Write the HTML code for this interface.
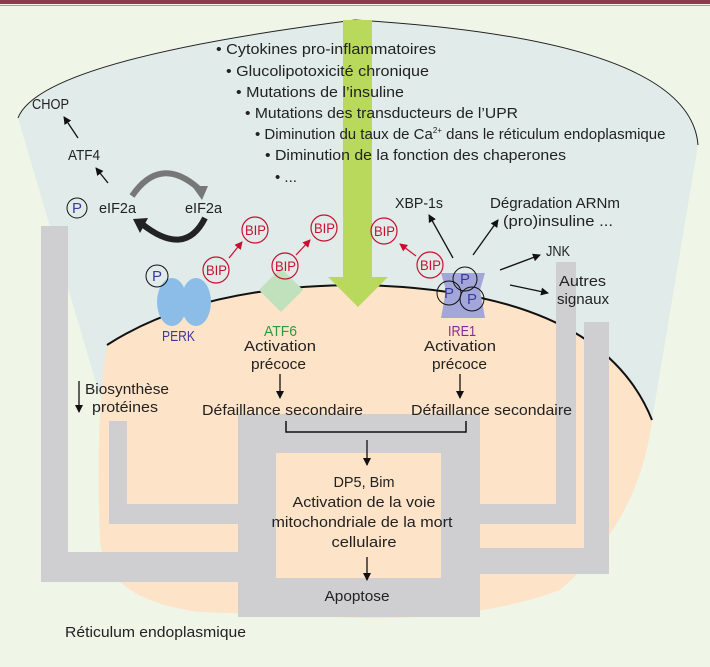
<!DOCTYPE html>
<html><head><meta charset="utf-8"><style>
html,body{margin:0;padding:0;background:#eff6e8;}
svg{display:block;}
text{font-family:"Liberation Sans",sans-serif;font-size:15px;fill:#222;}
</style></head><body>
<svg width="710" height="667" viewBox="0 0 710 667" xmlns="http://www.w3.org/2000/svg">
<defs>
<marker id="ab" markerWidth="8" markerHeight="8" refX="7" refY="4" orient="auto" markerUnits="userSpaceOnUse"><path d="M0,0 L8,4 L0,8 z" fill="#111"/></marker>
<marker id="ar" markerWidth="8" markerHeight="8" refX="7" refY="4" orient="auto" markerUnits="userSpaceOnUse"><path d="M0,0 L8,4 L0,8 z" fill="#c8102e"/></marker>
</defs>
<rect width="710" height="667" fill="#eff6e8"/>
<rect x="0" y="0" width="710" height="4" fill="#8e3a4c"/>
<rect x="0" y="5" width="710" height="1" fill="#c98a96"/>
<!-- cell -->
<path d="M18,118 Q40,60 355,20 Q690,40 698,145 L652,420 L107,420 Z" fill="#e0ebea" stroke="none"/>
<path d="M18,118 Q40,60 355,20 Q690,40 698,145" fill="none" stroke="#222" stroke-width="1"/>
<!-- ER orange -->
<path d="M107,345 Q200,285 360,285 Q600,290 652,420 Q640,520 560,590 Q480,620 360,618 L200,612 Q105,600 100,540 Q95,420 107,345 Z" fill="#fde3c8"/>
<path d="M107,345 Q200,285 360,285 Q600,290 652,420" fill="none" stroke="#111" stroke-width="2"/>
<!-- gray pipes -->
<g fill="#cfcfd2">
<rect x="41" y="226" width="27" height="356"/>
<rect x="41" y="552" width="200" height="30"/>
<rect x="109" y="421" width="18" height="103"/>
<rect x="109" y="504" width="130" height="20"/>
<rect x="556" y="262" width="20" height="262"/>
<rect x="478" y="504" width="98" height="20"/>
<rect x="584" y="322" width="25" height="252"/>
<rect x="478" y="548" width="131" height="26"/>
<path d="M238,414 H480 V617 H238 Z M276,453 V578 H441 V453 Z" fill-rule="evenodd"/>
</g>
<!-- green arrow -->
<rect x="343" y="20" width="29" height="258" fill="#b9d95c"/>
<path d="M328,277 L388,277 L358,307 Z" fill="#b9d95c"/>
<g lengthAdjust="spacingAndGlyphs">
<!-- bullets -->
<text x="216" y="54" textLength="220" lengthAdjust="spacingAndGlyphs">• Cytokines pro-inflammatoires</text>
<text x="226" y="76" textLength="203" lengthAdjust="spacingAndGlyphs">• Glucolipotoxicité chronique</text>
<text x="236" y="97" textLength="168" lengthAdjust="spacingAndGlyphs">• Mutations de l’insuline</text>
<text x="245" y="118" textLength="273" lengthAdjust="spacingAndGlyphs">• Mutations des transducteurs de l’UPR</text>
<text x="255" y="139">• Diminution du taux de Ca<tspan font-size="8" dy="-6">2+</tspan><tspan dy="6" font-size="15"> dans le réticulum endoplasmique</tspan></text>
<text x="265" y="160" textLength="301" lengthAdjust="spacingAndGlyphs">• Diminution de la fonction des chaperones</text>
<text x="275" y="182">• ...</text>
<!-- left PERK pathway -->
<text x="32" y="109" textLength="37" lengthAdjust="spacingAndGlyphs">CHOP</text>
<line x1="78" y1="138" x2="64" y2="117" stroke="#111" stroke-width="1.3" marker-end="url(#ab)"/>
<text x="68" y="160" textLength="32" lengthAdjust="spacingAndGlyphs">ATF4</text>
<line x1="108" y1="183" x2="96" y2="168" stroke="#111" stroke-width="1.3" marker-end="url(#ab)"/>
<circle cx="77" cy="208" r="10" fill="none" stroke="#111"/>
<text x="72" y="213" style="fill:#3a3aa0">P</text>
<text x="99" y="213" textLength="37" lengthAdjust="spacingAndGlyphs">eIF2a</text>
<text x="185" y="213" textLength="37" lengthAdjust="spacingAndGlyphs">eIF2a</text>
</g>
<path d="M132,196 Q160,155 198,188" fill="none" stroke="#777" stroke-width="6"/>
<path d="M192,186 L208,186 L202,200 Z" fill="#777"/>
<path d="M205,218 Q185,258 142,224" fill="none" stroke="#222" stroke-width="6"/>
<path d="M148,218 L133,219 L140,233 Z" fill="#222"/>
<!-- PERK -->
<ellipse cx="172" cy="302" rx="15" ry="24" fill="#8cbde8"/>
<ellipse cx="196" cy="302" rx="15" ry="24" fill="#8cbde8"/>
<circle cx="157" cy="276" r="11" fill="none" stroke="#111"/>
<text x="152" y="281" style="fill:#3a3aa0">P</text>
<text x="162" y="341" style="fill:#3a3aa0" textLength="33" lengthAdjust="spacingAndGlyphs">PERK</text>
<!-- ATF6 -->
<path d="M281,268 L303,290 L281,312 L259,290 Z" fill="#bfe2bd"/>
<text x="264" y="336" style="fill:#2f9a3a" textLength="33" lengthAdjust="spacingAndGlyphs">ATF6</text>
<!-- IRE1 -->
<path d="M441,273 H485 L480,290 L485,318 H441 L446,290 Z" fill="#a3a6d8"/>
<circle cx="465" cy="279" r="12" fill="none" stroke="#111"/>
<text x="460" y="284" style="fill:#3a3aa0">P</text>
<circle cx="449" cy="293" r="12" fill="none" stroke="#111"/>
<text x="444" y="298" style="fill:#3a3aa0">P</text>
<circle cx="472" cy="299" r="12" fill="none" stroke="#111"/>
<text x="467" y="304" style="fill:#3a3aa0">P</text>
<text x="448" y="336" style="fill:#8a2a9a" textLength="28" lengthAdjust="spacingAndGlyphs">IRE1</text>
<!-- BIPs -->
<g fill="none" stroke="#c8102e" stroke-width="1.2">
<circle cx="216" cy="270" r="13"/><circle cx="255" cy="230" r="13"/>
<circle cx="285" cy="266" r="13"/><circle cx="324" cy="228" r="13"/>
<circle cx="384" cy="231" r="13"/><circle cx="430" cy="265" r="13"/>
</g>
<text x="206" y="275" style="fill:#c8102e;font-size:14px" textLength="21" lengthAdjust="spacingAndGlyphs">BIP</text>
<text x="245" y="235" style="fill:#c8102e;font-size:14px" textLength="21" lengthAdjust="spacingAndGlyphs">BIP</text>
<text x="275" y="271" style="fill:#c8102e;font-size:14px" textLength="21" lengthAdjust="spacingAndGlyphs">BIP</text>
<text x="314" y="233" style="fill:#c8102e;font-size:14px" textLength="21" lengthAdjust="spacingAndGlyphs">BIP</text>
<text x="374" y="236" style="fill:#c8102e;font-size:14px" textLength="21" lengthAdjust="spacingAndGlyphs">BIP</text>
<text x="420" y="270" style="fill:#c8102e;font-size:14px" textLength="21" lengthAdjust="spacingAndGlyphs">BIP</text>
<line x1="229" y1="258" x2="242" y2="242" stroke="#c8102e" stroke-width="1.2" marker-end="url(#ar)"/>
<line x1="296" y1="255" x2="310" y2="240" stroke="#c8102e" stroke-width="1.2" marker-end="url(#ar)"/>
<line x1="416" y1="256" x2="400" y2="244" stroke="#c8102e" stroke-width="1.2" marker-end="url(#ar)"/>
<!-- IRE1 outputs -->
<text x="395" y="208" textLength="48" lengthAdjust="spacingAndGlyphs">XBP-1s</text>
<line x1="453" y1="258" x2="429" y2="215" stroke="#111" stroke-width="1.3" marker-end="url(#ab)"/>
<text x="490" y="208" textLength="130" lengthAdjust="spacingAndGlyphs">Dégradation ARNm</text>
<text x="503" y="226" textLength="110" lengthAdjust="spacingAndGlyphs">(pro)insuline ...</text>
<line x1="473" y1="255" x2="498" y2="220" stroke="#111" stroke-width="1.3" marker-end="url(#ab)"/>
<text x="546" y="256" textLength="24" lengthAdjust="spacingAndGlyphs">JNK</text>
<line x1="500" y1="270" x2="540" y2="255" stroke="#111" stroke-width="1.3" marker-end="url(#ab)"/>
<text x="559" y="286" textLength="47" lengthAdjust="spacingAndGlyphs">Autres</text>
<text x="557" y="304" textLength="52" lengthAdjust="spacingAndGlyphs">signaux</text>
<line x1="510" y1="285" x2="548" y2="293" stroke="#111" stroke-width="1.3" marker-end="url(#ab)"/>
<!-- lower -->
<text x="244" y="351" textLength="72" lengthAdjust="spacingAndGlyphs">Activation</text>
<text x="251" y="369" textLength="55" lengthAdjust="spacingAndGlyphs">précoce</text>
<line x1="280" y1="374" x2="280" y2="398" stroke="#111" stroke-width="1.3" marker-end="url(#ab)"/>
<text x="424" y="351" textLength="72" lengthAdjust="spacingAndGlyphs">Activation</text>
<text x="432" y="369" textLength="55" lengthAdjust="spacingAndGlyphs">précoce</text>
<line x1="460" y1="374" x2="460" y2="398" stroke="#111" stroke-width="1.3" marker-end="url(#ab)"/>
<text x="202" y="415" textLength="161" lengthAdjust="spacingAndGlyphs">Défaillance secondaire</text>
<text x="411" y="415" textLength="161" lengthAdjust="spacingAndGlyphs">Défaillance secondaire</text>
<path d="M286,421 V432 H466 V421" fill="none" stroke="#111" stroke-width="1.5"/>
<line x1="367" y1="440" x2="367" y2="465" stroke="#111" stroke-width="1.3" marker-end="url(#ab)"/>
<line x1="79" y1="381" x2="79" y2="412" stroke="#111" stroke-width="1.3" marker-end="url(#ab)"/>
<text x="85" y="394" textLength="84" lengthAdjust="spacingAndGlyphs">Biosynthèse</text>
<text x="92" y="412" textLength="66" lengthAdjust="spacingAndGlyphs">protéines</text>
<g text-anchor="middle">
<text x="364" y="487" textLength="61" lengthAdjust="spacingAndGlyphs">DP5, Bim</text>
<text x="364" y="507" textLength="143" lengthAdjust="spacingAndGlyphs">Activation de la voie</text>
<text x="362" y="527" textLength="181" lengthAdjust="spacingAndGlyphs">mitochondriale de la mort</text>
<text x="364" y="547" textLength="65" lengthAdjust="spacingAndGlyphs">cellulaire</text>
<text x="357" y="601" textLength="65" lengthAdjust="spacingAndGlyphs">Apoptose</text>
</g>
<line x1="367" y1="557" x2="367" y2="580" stroke="#111" stroke-width="1.3" marker-end="url(#ab)"/>
<text x="65" y="637" textLength="181" lengthAdjust="spacingAndGlyphs">Réticulum endoplasmique</text>
</svg>
</body></html>
